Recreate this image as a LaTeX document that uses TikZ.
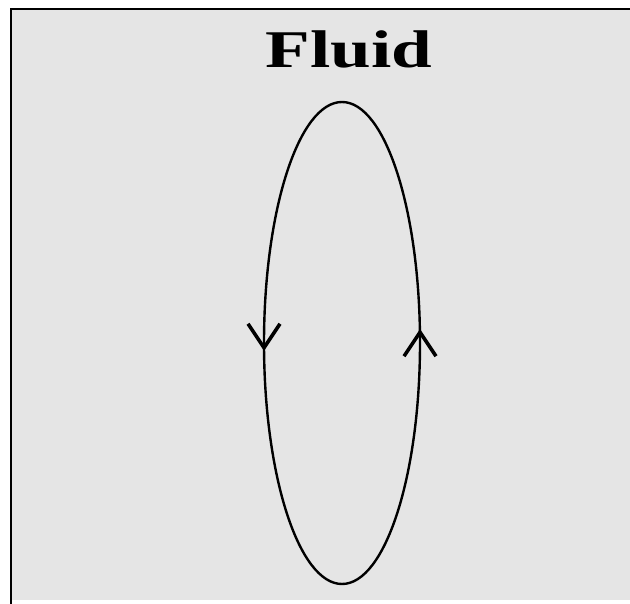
\documentclass[tikz,border=0pt]{standalone}
\usepackage{fontspec}
\setmainfont{Liberation Serif}
\usetikzlibrary{arrows.meta}
\definecolor{bggray}{HTML}{E5E5E5}
\tikzset{
  flowline/.style={line width=2.4pt, black},
  flowtip/.style={-{Straight Barb[length=24pt,width=32pt,line width=3.6pt]}},
  title/.style={font=\bfseries\fontsize{53}{60}\selectfont, inner sep=0pt}
}
\begin{document}
\begin{tikzpicture}[x=1pt,y=-1pt]
\useasboundingbox (0,0) rectangle (630,604);
\fill[bggray] (11,9) rectangle (630,600);
\draw[line width=2.5pt] (11,604) -- (11,9) -- (630,9);
\node[title] (t) at (349,49) {\scalebox{1.38}[1]{Fluid}};
\draw[flowline] (342,343) ellipse [x radius=78, y radius=241];
\coordinate (l0) at (264,318);
\coordinate (l1) at (264,351);
\coordinate (r0) at (420,362);
\coordinate (r1) at (420,329);
\draw[flowline, flowtip] (l0) -- (l1);
\draw[flowline, flowtip] (r0) -- (r1);
\end{tikzpicture}
\end{document}
